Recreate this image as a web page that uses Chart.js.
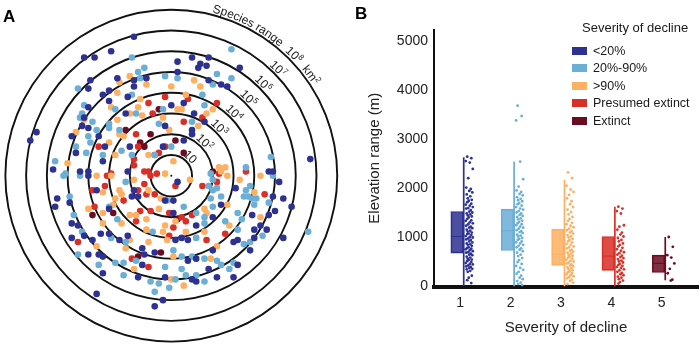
<!DOCTYPE html>
<html>
<head>
<meta charset="utf-8">
<script src="https://cdn.jsdelivr.net/npm/chart.js@4.4.1/dist/chart.umd.min.js"></script>
<style>
  html, body { margin: 0; padding: 0; background: #fff; }
  #wrap { position: relative; width: 700px; height: 347px; overflow: hidden;
          font-family: "Liberation Sans", Arial, Helvetica, sans-serif; color: #1a1a1a; }
  #panelA { position: absolute; left: 0; top: 0; width: 360px; height: 347px; }
  #panelB { position: absolute; left: 360px; top: 0; width: 340px; height: 347px; }
  .tag { position: absolute; font-weight: bold; font-size: 17px; line-height: 17px; color: #000; }
  #legend { position: absolute; left: 572px; top: 21px; font-size: 12.5px; }
  #legend .title { position: absolute; left: 10px; top: 0; white-space: nowrap; font-size: 13px; line-height: 13px; }
  #legend .item { position: absolute; left: 0; white-space: nowrap; line-height: 12px; height: 12px; }
  #legend .swatch { position: absolute; left: 0; top: 2px; width: 15px; height: 8px; }
  #legend .label { position: absolute; left: 21px; top: 0; }
</style>
</head>
<body>
<div id="wrap">
  <div id="panelA"><canvas id="chartA"></canvas></div>
  <div id="panelB"><canvas id="chartB"></canvas></div>
  <div class="tag" style="left:3px; top:8px;">A</div>
  <div class="tag" style="left:355px; top:5px;">B</div>
  <div id="legend"></div>
</div>
<script>
const FONT = '"Liberation Sans", Arial, Helvetica, sans-serif';

// severity classes
const severityLevels = [1, 2, 3, 4, 5];
const severityLabels = ['<20%', '20%-90%', '>90%', 'Presumed extinct', 'Extinct'];
const severityColors = ['#2d3192', '#6baed6', '#fdb062', '#d92f27', '#6b0d22'];

// panel A: rings are log10 of species range (km2), species placed on the disc
const ringLevels = [1, 2, 3, 4, 5, 6, 7, 8];
const ringExponents = ['', '2', '3', '4', '5', '6', '7', '8'];

const rangeLt20 = [
  [-1.8,6.7],[-4.2,5.7],[-3.7,5.7],[-2.9,6.0],[0.3,5.5],[0.3,5.0],[-2.6,4.7],[-3.9,4.6],[-4.0,4.2],[-3.0,4.1],
  [-1.8,4.6],[-1.2,4.7],[-1.8,4.3],[-3.3,3.9],[-2.1,3.8],[-4.0,3.3],[-3.0,3.6],[0.0,3.4],[-4.2,2.8],[-2.2,3.0],
  [-4.3,2.4],[-4.8,1.9],[-4.0,2.3],[-3.5,1.9],[-0.3,2.4],[-3.2,1.4],[-2.0,1.4],[-0.4,1.4],[-4.6,1.1],[-3.3,0.7],
  [-5.7,0.3],[-4.4,0.2],[-4.0,0.2],[-2.1,0.2],[-6.8,1.7],[-6.5,2.1],
  [1.0,5.7],[1.4,5.4],[1.3,5.2],[1.8,5.7],[1.7,5.3],[3.3,5.2],[1.8,4.6],[2.4,4.4],[2.7,4.3],[0.6,3.5],
  [1.1,3.0],[1.6,2.6],[1.0,2.2],[1.0,2.0],[0.6,1.7],[6.7,0.8],[4.7,0.2],[4.9,0.2],
  [-4.0,0.0],[-5.5,-1.1],[-5.6,-1.5],[-4.9,-1.3],[-3.6,-0.7],[-1.8,-0.7],[-1.9,-1.0],[-1.6,-1.0],[0.1,-1.2],[-3.0,-1.6],
  [0.1,-1.8],[-4.8,-2.3],[-4.5,-2.4],[-4.2,-2.9],[-4.8,-3.0],[-3.8,-3.1],[-3.4,-2.8],[-3.0,-2.8],[-2.5,-3.1],[-2.1,-2.9],
  [0.2,-3.1],[-4.0,-3.8],[-3.5,-3.8],[-3.3,-3.9],[-1.4,-3.5],[-1.3,-3.8],[-0.8,-3.7],[-3.3,-4.7],[-1.4,-4.3],[-1.6,-4.9],
  [-0.3,-4.9],[-0.4,-6.0],[-0.8,-6.3],[-3.6,-5.7],
  [5.2,-0.3],[3.1,-0.6],[4.9,-1.0],[5.4,-1.1],[5.8,-1.5],[2.4,-1.4],[2.0,-2.0],[3.9,-1.9],[4.7,-1.9],[5.0,-1.7],
  [1.2,-2.4],[4.0,-2.6],[4.3,-2.4],[4.6,-2.6],[5.4,-3.0],[0.5,-3.0],[0.8,-3.1],[2.0,-3.6],[3.0,-3.2],[3.2,-3.1],
  [4.0,-3.0],[3.8,-3.6],[0.8,-4.1],[1.2,-4.0],[3.2,-4.3],[1.8,-4.5],[1.0,-5.0],[1.2,-5.1],[2.2,-4.9],[3.0,-4.9],
  [0.3,-0.3],[-0.3,-1.2]
];
const range20to90 = [
  [-1.9,5.7],[-1.6,5.0],[-1.3,5.2],[-4.5,4.2],[-1.5,4.7],[-0.3,4.8],[0.3,4.7],[-1.9,3.9],[-4.2,3.4],[-2.7,3.2],
  [-0.4,3.2],[-4.3,3.0],[-3.8,2.6],[-4.4,2.8],[-1.7,3.0],[-3.0,2.5],[-3.0,2.3],[-2.5,2.2],[-3.6,2.2],[-0.6,2.5],
  [-4.0,1.9],[-3.9,1.6],[0.0,1.4],[-4.6,1.4],[-4.1,1.1],[-3.3,1.0],[-2.4,1.2],[-1.9,1.0],[-5.6,0.7],[-5.1,0.1],[-0.8,1.0],
  [2.9,6.1],[2.2,4.9],[2.9,4.7],[2.0,4.4],[1.5,3.9],[1.6,3.4],[1.0,2.6],[4.8,0.9],[3.6,0.4],[1.9,0.1],
  [-5.2,0.0],[-4.4,0.0],[-2.2,-0.3],[-4.9,-1.0],[-0.2,-1.2],[-3.0,-1.5],[-4.7,-1.9],[-2.6,-2.1],[-0.9,-2.7],[-4.3,-2.7],
  [-2.9,-3.0],[-2.2,-3.2],[0.1,-3.6],[-4.5,-3.8],[-2.7,-4.2],[-3.5,-4.3],[-2.3,-4.2],[-1.7,-4.1],[-0.3,-4.4],[-2.3,-4.8],
  [-1.0,-5.1],[-0.6,-5.2],[-0.1,-5.4],[-0.8,-5.6],[0.2,-5.0],
  [2.0,-0.2],[1.8,-0.5],[2.2,-0.6],[2.0,-0.7],[4.9,0.0],[3.6,-0.7],[3.8,-0.5],[3.5,-1.0],[3.7,-1.0],[3.9,-1.1],
  [4.1,-1.1],[1.9,-1.1],[2.4,-1.0],[2.0,-1.5],[1.2,-1.8],[1.6,-2.0],[3.2,-1.8],[3.4,-2.1],[1.6,-2.3],[2.6,-2.2],
  [3.2,-2.6],[4.4,-2.9],[6.6,-2.7],[1.2,-3.0],[3.5,-3.3],[3.8,-3.2],[0.5,-3.9],[1.0,-3.9],[1.6,-4.0],[2.2,-4.1],
  [2.4,-4.3],[3.0,-4.2],[2.8,-4.5],[0.5,-4.5],[0.7,-4.8],[1.2,-4.8],[1.6,-5.1],[0.6,-1.5],[4.7,-1.3],[4.0,-1.4]
];
const rangeGt90 = [
  [-2.0,4.8],[-2.5,4.5],[-1.2,4.4],[0.0,4.3],[-2.6,4.0],[-1.5,3.7],[-2.9,3.3],[-1.6,3.3],[0.3,3.2],[-4.2,2.7],
  [-2.0,3.0],[-1.4,2.9],[-0.4,2.8],[-2.6,2.7],[-4.6,2.1],[-2.5,2.0],[-2.3,1.9],[-0.1,2.2],[-3.0,1.6],[-2.7,1.0],
  [-1.1,1.0],[0.1,0.7],[-5.0,0.6],[-3.6,0.0],[-0.3,0.1],
  [1.1,4.6],[1.4,4.3],[0.7,3.9],[2.0,3.2],[0.5,3.2],[1.7,3.0],[1.3,2.4],[2.3,0.4],[2.6,0.4],
  [-2.9,0.0],[-1.8,-0.2],[-3.3,-0.8],[-2.5,-0.7],[-2.4,-0.9],[-2.7,-1.1],[-1.1,-0.7],[-0.5,-1.1],[-4.0,-1.6],[-2.8,-1.4],
  [-3.3,-1.8],[-2.0,-1.9],[-1.7,-1.9],[-0.6,-1.6],[-3.3,-2.3],[-2.4,-2.3],[-1.2,-2.1],[-1.2,-2.6],[-0.4,-2.7],[-0.3,-2.4],
  [0.2,-2.2],[-3.6,-3.4],[-2.0,-3.1],[-1.1,-3.2],[-0.2,-3.1],[-2.2,-3.5],[0.1,-3.9],[-1.8,-4.5],[0.0,-5.0],
  [0.9,-0.2],[2.7,0.0],[3.3,-0.2],[4.3,0.0],[4.0,-0.8],[2.7,-1.4],[1.6,-1.6],[1.7,-1.8],[4.3,-2.0],[2.8,-2.4],
  [1.6,-2.7],[0.7,-2.7],[2.2,-3.4],[1.9,-4.0],[0.6,-5.3],[2.4,0.2]
];
const rangePresumed = [
  [-0.3,3.8],[-1.1,3.5],[-0.9,3.0],[-1.7,2.0],[-3.5,1.4],[-1.6,1.4],[-1.8,0.8],[-0.8,1.0],[-0.6,1.1],[-2.9,0.1],
  [-1.8,0.5],[-1.1,0.2],[-0.7,0.1],[-0.3,1.4],
  [0.8,3.7],[2.2,3.5],[0.6,2.6],[1.5,2.8],[3.6,0.2],[2.3,0.1],
  [-3.1,0.0],[-1.3,-0.4],[-1.0,0.0],[-3.8,-0.7],[-3.2,-0.5],[-1.6,-0.7],[-1.2,-0.9],[-0.8,-0.9],[-2.3,-1.2],[-3.7,-1.5],
  [-1.5,-1.7],[-1.0,-1.7],[-0.1,-1.8],[-1.7,-2.2],[0.1,-2.5],[-4.5,-3.2],[-0.1,-2.9],[-1.9,-4.0],[-1.1,-4.4],
  [2.2,-0.3],[1.5,-0.5],[1.0,-1.9],[0.5,-2.0],[0.7,-2.2],[1.7,-3.1],[2.6,-2.8],[4.5,-0.9],[0.2,-0.5],[-1.3,0.2]
];
const rangeExtinct = [
  [-0.6,3.2],[-2.2,2.2],[-1.0,2.0],[0.2,1.7],[-1.5,1.6],[-1.3,1.4],[0.6,1.1],[2.0,0.2],
  [-3.8,-1.9],[-2.8,-1.8],[0.3,-2.1],[-1.6,-3.9],[-0.5,-3.7]
];
const rangeSets = [rangeLt20, range20to90, rangeGt90, rangePresumed, rangeExtinct];

// panel B: elevation range (m) by severity
const boxQ1 = [680, 735, 430, 330, 285];
const boxMedian = [1020, 1140, 660, 620, 470];
const boxQ3 = [1530, 1580, 1170, 1020, 640];
const whiskerLow = [0, 0, 0, 0, 130];
const whiskerHigh = [2640, 2550, 2180, 1630, 1010];

const elevLt20 = [2650, 2620, 2560, 2530, 2400, 2210, 2020, 1990, 1950, 1920, 1880, 1840, 1800, 1770, 1750, 1720,
  1690, 1670, 1650, 1620, 1600, 1590, 1560, 1530, 1510, 1490, 1470, 1450, 1430, 1410, 1380, 1350, 1340, 1310, 1290,
  1270, 1240, 1220, 1200, 1190, 1160, 1140, 1120, 1100, 1080, 1070, 1050, 1030, 1010, 1000, 980, 960, 950, 920, 900,
  880, 860, 850, 830, 800, 790, 770, 760, 740, 720, 700, 690, 670, 650, 640, 610, 590, 570, 550, 540, 520, 500, 480,
  460, 450, 430, 410, 400, 380, 360, 350, 320, 300, 220, 180, 130, 70];
const elev20to90 = [3690, 3480, 3390, 2550, 2190, 2040, 1960, 1930, 1890, 1860, 1820, 1790, 1760, 1740, 1700, 1680,
  1650, 1620, 1590, 1570, 1540, 1510, 1490, 1460, 1440, 1420, 1390, 1370, 1340, 1320, 1290, 1270, 1250, 1220, 1200,
  1180, 1150, 1130, 1110, 1090, 1060, 1040, 1020, 990, 970, 950, 920, 900, 880, 850, 830, 800, 780, 750, 720, 690,
  650, 620, 580, 540, 500, 460, 420, 380, 340, 300, 260, 220, 180, 150, 110, 80, 50, 30];
const elevGt90 = [2330, 2210, 2060, 1980, 1930, 1870, 1800, 1740, 1680, 1620, 1570, 1520, 1470, 1420, 1380, 1340,
  1300, 1270, 1240, 1210, 1180, 1150, 1130, 1100, 1080, 1050, 1020, 1000, 970, 950, 920, 900, 870, 850, 820, 800,
  780, 750, 730, 710, 690, 670, 650, 630, 610, 590, 570, 550, 530, 510, 490, 470, 450, 430, 410, 390, 370, 350, 330,
  310, 290, 270, 250, 230, 210, 190, 170, 140, 110, 80, 50];
const elevPresumed = [1630, 1590, 1540, 1490, 1250, 1220, 1160, 1100, 1060, 1020, 990, 950, 920, 880, 850, 820, 790,
  760, 730, 700, 680, 650, 630, 600, 580, 560, 530, 510, 490, 460, 440, 420, 400, 380, 350, 330, 300, 280, 250, 230,
  200, 180, 150, 120, 90, 60];
const elevExtinct = [1010, 810, 640, 590, 470, 360, 270, 140, 120];
const elevSets = [elevLt20, elev20to90, elevGt90, elevPresumed, elevExtinct];

const xTickLabels = ['1', '2', '3', '4', '5'];
const yTickValues = [0, 1000, 2000, 3000, 4000, 5000];

// horizontal layout of each group, in x units around the category value
const BOX_SHIFT = -0.062, BOX_HALF = 0.123, WHISKER_SHIFT = 0.07;
const jitter = [0.14, 0.22, 0.11, 0.19, 0.25, 0.16, 0.12, 0.21, 0.18, 0.24, 0.13, 0.20, 0.15, 0.23, 0.17];

function rgba(hex, a) {
  const n = parseInt(hex.slice(1), 16);
  return `rgba(${(n >> 16) & 255},${(n >> 8) & 255},${n & 255},${a})`;
}

// ---- legend (html) ----
const legend = document.getElementById('legend');
legend.innerHTML = '<div class="title">Severity of decline</div>' +
  severityLabels.map((lab, i) =>
    `<div class="item" style="top:${24 + i * 17.4}px"><div class="swatch" style="background:${severityColors[i]}"></div>` +
    `<div class="label">${lab.replace('<', '&lt;').replace('>', '&gt;')}</div></div>`).join('');

// ---- panel A ----
function drawPower(ctx, cx, cy, r, theta, exp) {
  ctx.save();
  ctx.translate(cx + r * Math.cos(theta), cy - r * Math.sin(theta));
  ctx.rotate(Math.PI / 2 - theta);
  ctx.font = `12px ${FONT}`;
  const w1 = ctx.measureText('10').width;
  ctx.font = `8px ${FONT}`;
  const w2 = exp ? ctx.measureText(exp).width + 0.5 : 0;
  const x0 = -(w1 + w2) / 2;
  ctx.font = `12px ${FONT}`;
  ctx.fillText('10', x0, 0);
  if (exp) {
    ctx.font = `8px ${FONT}`;
    ctx.fillText(exp, x0 + w1 + 0.5, -4.5);
  }
  ctx.restore();
}

function drawArcText(ctx, cx, cy, r, startTheta, parts) {
  let theta = startTheta;
  parts.forEach(p => {
    ctx.font = `${p.size}px ${FONT}`;
    for (const ch of p.text) {
      const w = ctx.measureText(ch).width;
      const tc = theta - (w / 2) / r;
      ctx.save();
      ctx.translate(cx + r * Math.cos(tc), cy - r * Math.sin(tc));
      ctx.rotate(Math.PI / 2 - tc);
      ctx.fillText(ch, -w / 2, -(p.raise || 0));
      ctx.restore();
      theta -= w / r;
    }
  });
}

const ringPlugin = {
  id: 'rings',
  beforeDatasetsDraw(chart) {
    const {ctx, scales: {x, y}} = chart;
    const cx = x.getPixelForValue(0), cy = y.getPixelForValue(0);
    ctx.save();
    ctx.strokeStyle = '#111';
    ctx.lineWidth = 1.9;
    ringLevels.forEach(k => {
      const r = x.getPixelForValue(k) - cx;
      ctx.beginPath();
      ctx.arc(cx, cy, r, 0, Math.PI * 2);
      ctx.stroke();
    });
    ctx.fillStyle = '#111';
    ctx.beginPath();
    ctx.arc(cx, cy, 1, 0, Math.PI * 2);
    ctx.fill();
    ctx.restore();
  },
  afterDatasetsDraw(chart) {
    const {ctx, scales: {x, y}} = chart;
    const cx = x.getPixelForValue(0), cy = y.getPixelForValue(0);
    ctx.save();
    ctx.fillStyle = '#1a1a1a';
    ctx.textBaseline = 'alphabetic';
    ringLevels.forEach((k, i) => {
      const r = x.getPixelForValue(k) - cx;
      if (k < ringLevels.length) {
        drawPower(ctx, cx, cy, r + 2, Math.PI / 4, ringExponents[i]);
      } else {
        drawArcText(ctx, cx, cy, r + 2.5, 76 * Math.PI / 180, [
          {text: 'Species range  10', size: 12},
          {text: ringExponents[i], size: 8, raise: 4.5},
          {text: '  km', size: 12},
          {text: '2', size: 8, raise: 4.5}
        ]);
      }
    });
    ctx.restore();
  }
};

new Chart(document.getElementById('chartA'), {
  type: 'scatter',
  data: {
    datasets: rangeSets.map((set, i) => ({
      label: severityLabels[i],
      data: set.map(p => ({x: p[0], y: p[1]})),
      backgroundColor: severityColors[i],
      pointRadius: 3.3,
      pointHoverRadius: 3.3,
      pointBorderWidth: 0
    }))
  },
  options: {
    responsive: true,
    maintainAspectRatio: false,
    animation: false,
    events: [],
    layout: {padding: {left: 0.7, right: 20.7, top: 7.7, bottom: 0.7}},
    plugins: {legend: {display: false}, tooltip: {enabled: false}},
    scales: {
      x: {type: 'linear', display: false, min: -8.1, max: 8.1},
      y: {type: 'linear', display: false, min: -8.1, max: 8.1}
    }
  },
  plugins: [ringPlugin]
});

// ---- panel B ----
const bDatasets = [];
bDatasets.push({
  type: 'bar',
  data: severityLevels.map((k, i) => ({x: k + BOX_SHIFT, y: [boxQ1[i], boxQ3[i]]})),
  backgroundColor: severityColors.map(c => rgba(c, 0.86)),
  borderColor: severityColors,
  borderWidth: 1,
  borderSkipped: false,
  barThickness: 12.5,
  order: 5
});
severityLevels.forEach((k, i) => {
  bDatasets.push({
    type: 'line',
    data: [{x: k + BOX_SHIFT - BOX_HALF, y: boxMedian[i]}, {x: k + BOX_SHIFT + BOX_HALF, y: boxMedian[i]}],
    borderColor: rgba(severityColors[i], 0.9),
    borderWidth: 1.2,
    pointRadius: 0,
    order: 4
  });
  bDatasets.push({
    type: 'line',
    data: [{x: k + WHISKER_SHIFT, y: whiskerLow[i]}, {x: k + WHISKER_SHIFT, y: whiskerHigh[i]}],
    borderColor: severityColors[i],
    borderWidth: 1.7,
    pointRadius: 0,
    order: 3
  });
  bDatasets.push({
    type: 'scatter',
    data: elevSets[i].map((v, j) => ({x: k + jitter[j % jitter.length], y: v})),
    backgroundColor: severityColors[i],
    pointRadius: 1.4,
    pointHoverRadius: 1.4,
    pointBorderWidth: 0,
    order: 2
  });
});

new Chart(document.getElementById('chartB'), {
  type: 'scatter',
  data: {datasets: bDatasets},
  options: {
    responsive: true,
    maintainAspectRatio: false,
    animation: false,
    events: [],
    layout: {padding: {left: 0, right: 2, top: 30, bottom: 0}},
    plugins: {legend: {display: false}, tooltip: {enabled: false}},
    scales: {
      x: {
        type: 'linear', min: 0.48, max: 5.72, offset: false, z: 1,
        afterBuildTicks: s => { s.ticks = severityLevels.map(v => ({value: v})); },
        afterFit: s => { s.height = 60.5; },
        grid: {display: false, drawTicks: false, offset: false},
        border: {display: true, color: '#111', width: 4},
        ticks: {
          padding: 8, color: '#222',
          font: {family: FONT, size: 14},
          callback: v => xTickLabels[severityLevels.indexOf(v)] ?? ''
        },
        title: {display: true, text: 'Severity of decline', color: '#222',
                font: {family: FONT, size: 15}, padding: {top: 0, bottom: 10}}
      },
      y: {
        type: 'linear', min: 0, max: 5235, z: 1,
        afterBuildTicks: s => { s.ticks = yTickValues.map(v => ({value: v})); },
        afterFit: s => { s.width = 74; },
        grid: {display: false, drawTicks: false},
        border: {display: true, color: '#111', width: 2},
        ticks: {padding: 6, color: '#222', font: {family: FONT, size: 14},
                callback: v => String(v)},
        title: {display: true, text: 'Elevation range (m)', color: '#222',
                font: {family: FONT, size: 15}, padding: {top: 6, bottom: 0}}
      }
    }
  }
});
</script>
</body>
</html>
